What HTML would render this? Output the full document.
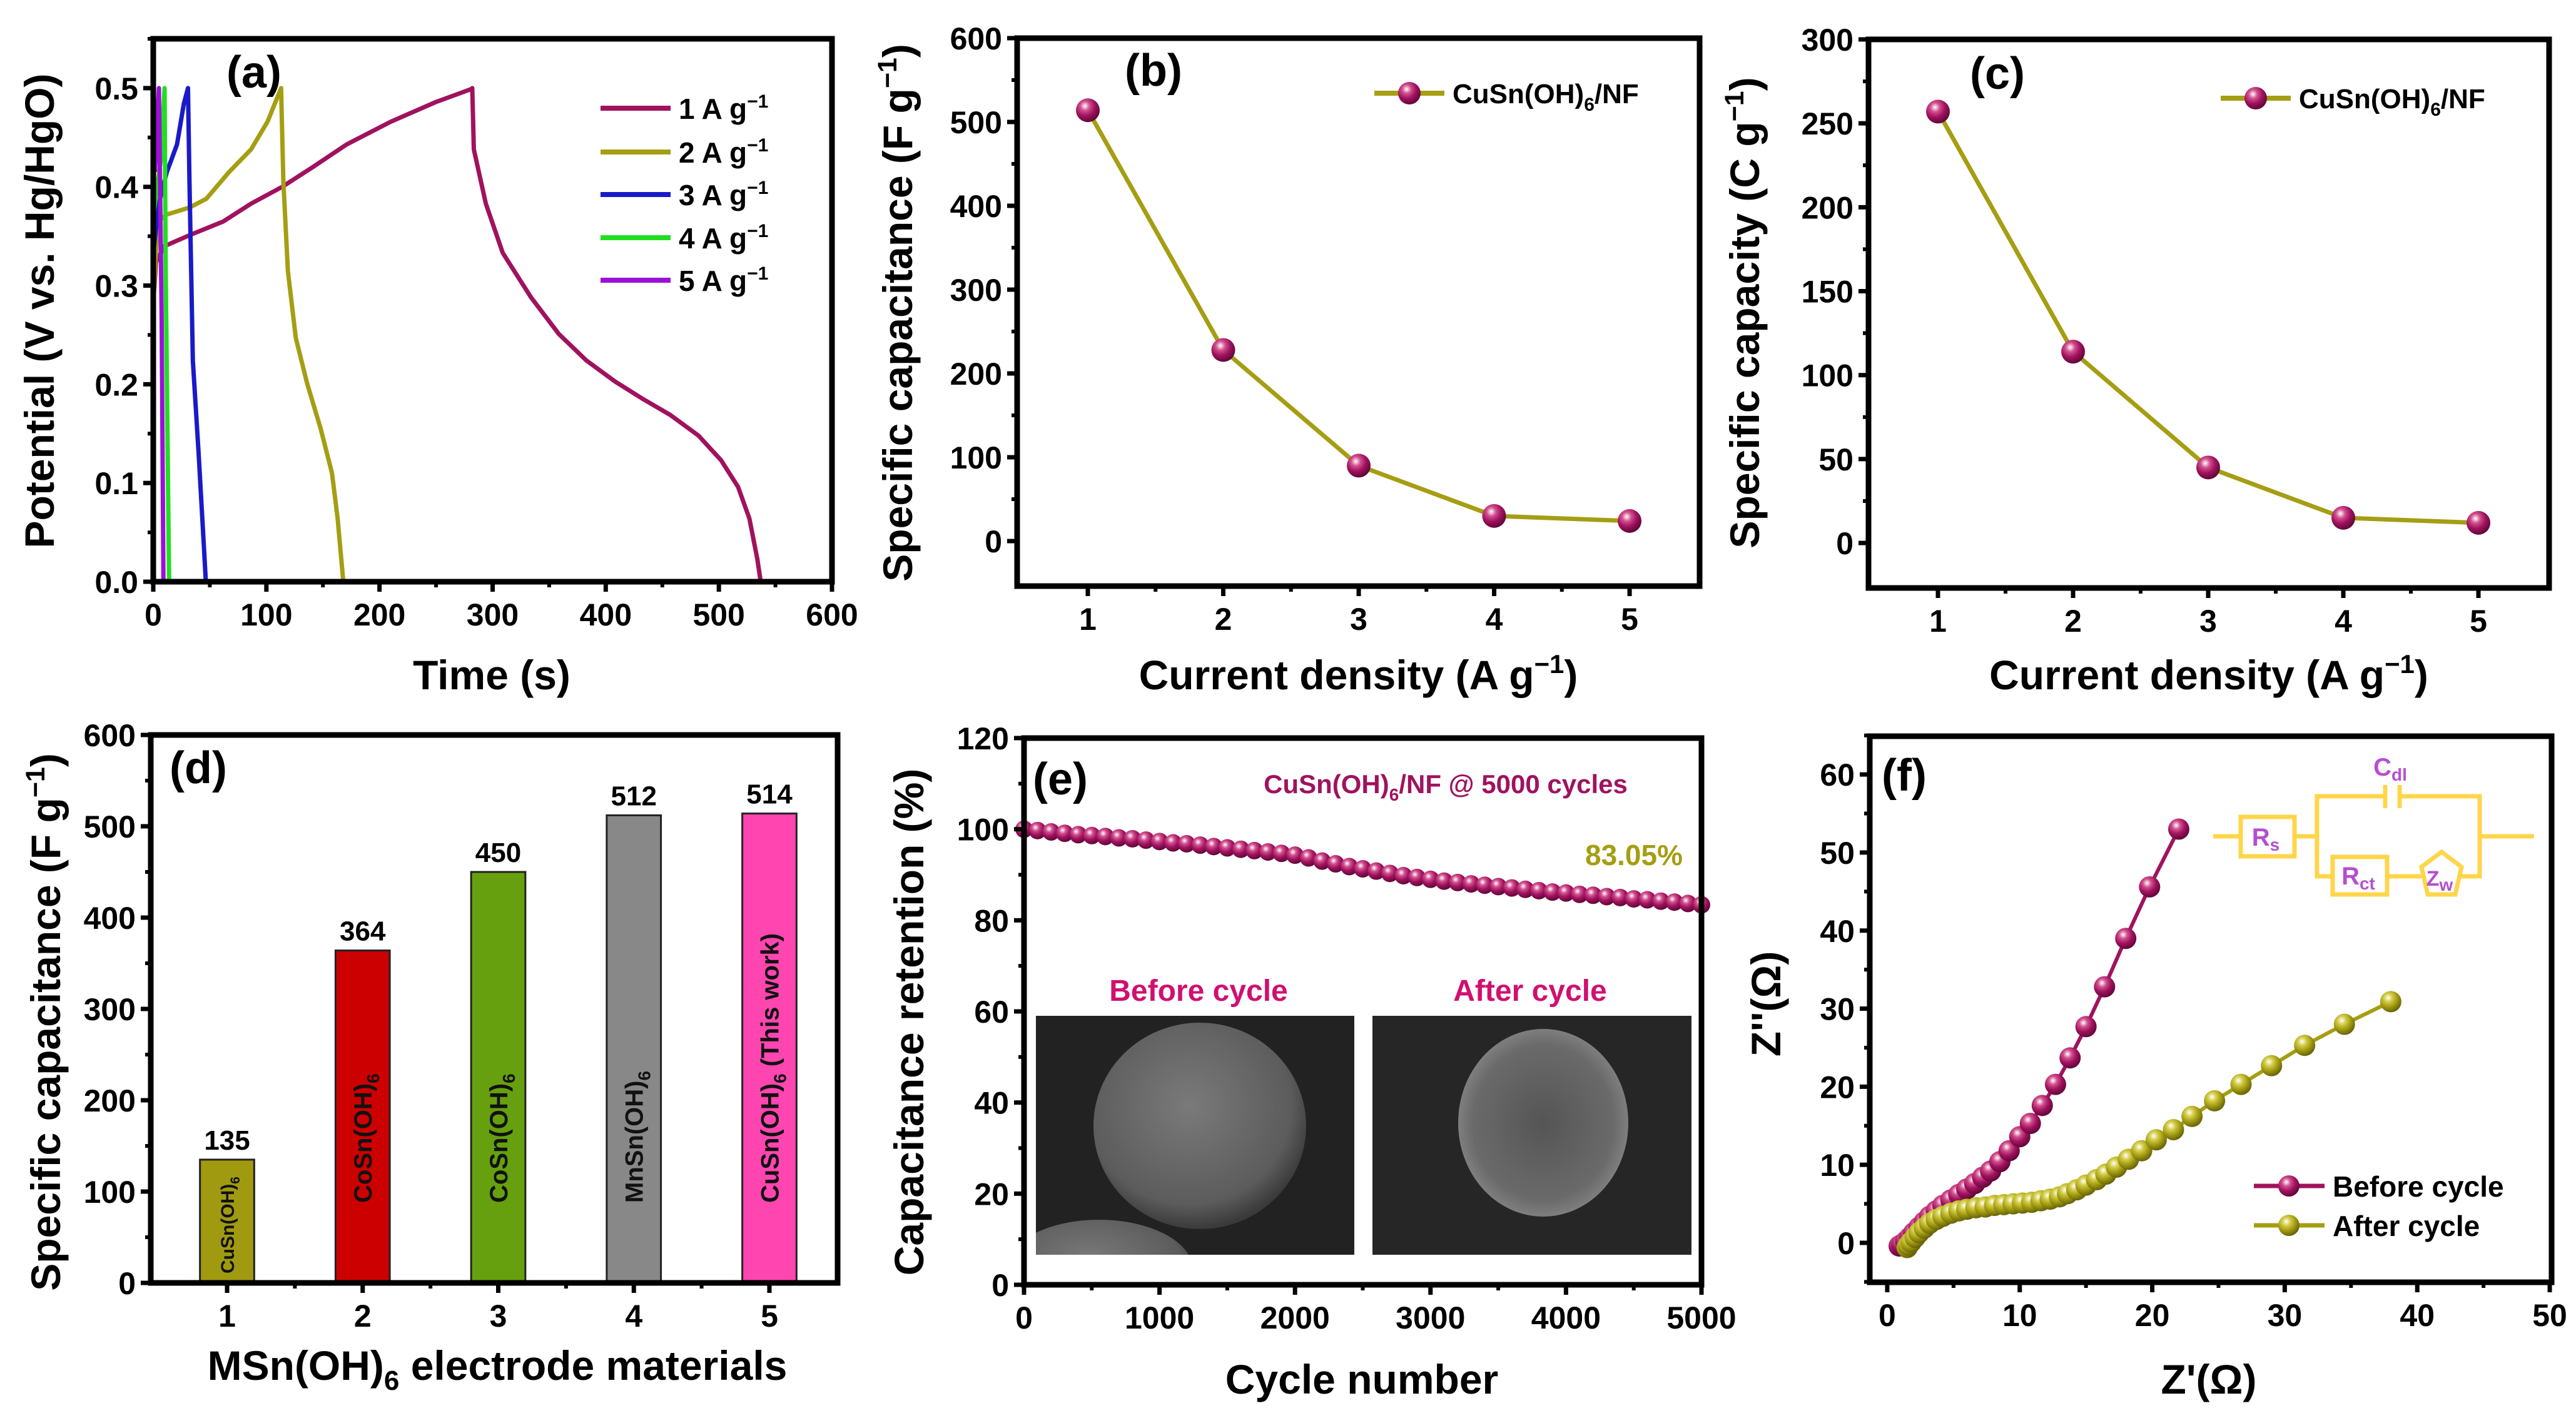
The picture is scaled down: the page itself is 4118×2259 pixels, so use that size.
<!DOCTYPE html>
<html><head><meta charset="utf-8">
<style>
html,body{margin:0;padding:0;background:#fff;}
svg{display:block;font-family:"Liberation Sans",Arial,sans-serif;font-weight:bold;}
</style></head>
<body>
<svg id="fig" width="4118" height="2259" viewBox="0 0 4118 2259" xmlns="http://www.w3.org/2000/svg">
<defs>
<radialGradient id="gM" cx="0.38" cy="0.32" r="0.7"><stop offset="0" stop-color="#ffffff"/><stop offset="0.28" stop-color="#d2508e"/><stop offset="0.6" stop-color="#a0125e"/><stop offset="1" stop-color="#5e0636"/></radialGradient>
<radialGradient id="gO" cx="0.38" cy="0.32" r="0.7"><stop offset="0" stop-color="#ffffff"/><stop offset="0.28" stop-color="#d4cd4a"/><stop offset="0.6" stop-color="#a59e13"/><stop offset="1" stop-color="#646006"/></radialGradient>
<radialGradient id="gS" cx="0.45" cy="0.4" r="0.6"><stop offset="0" stop-color="#7a7a7a"/><stop offset="0.8" stop-color="#5c5c5c"/><stop offset="1" stop-color="#3a3a3a"/></radialGradient>
<radialGradient id="gS2" cx="0.5" cy="0.5" r="0.55"><stop offset="0" stop-color="#555"/><stop offset="0.75" stop-color="#6a6a6a"/><stop offset="1" stop-color="#8a8a8a"/></radialGradient>
<clipPath id="clipBefore"><rect x="1656" y="1624" width="509" height="382"/></clipPath>
<clipPath id="clipAfter"><rect x="2194" y="1624" width="510" height="382"/></clipPath>
</defs>
</svg>
<script>
// ---------- DATA ----------
// (a) GCD curves
const aT1=[0,2.5,10,32,62,86.5,114,141,171,210,250,281,282,283.4,294,309,334,358.5,383,408,433,457,482,502,517,527,534,537];
const aV1=[0.283,0.324,0.34,0.351,0.365,0.383,0.40,0.42,0.443,0.466,0.486,0.499,0.5,0.438,0.383,0.333,0.288,0.251,0.224,0.203,0.185,0.169,0.148,0.123,0.096,0.064,0.023,0];
const aT2=[0,4,12,32,47,67,86.5,101,113,115,119,126,136,148,158,163,168];
const aV2=[0.287,0.365,0.372,0.379,0.388,0.415,0.438,0.466,0.5,0.406,0.315,0.247,0.201,0.155,0.11,0.064,0];
const aT3=[0,5,12,21,27,30.7,32,35,40,44.5,46.5];
const aV3=[0.333,0.383,0.415,0.443,0.484,0.5,0.406,0.224,0.132,0.041,0];
const aT4=[0,7,10,11,14];
const aV4=[0.37,0.43,0.5,0.315,0];
const aT5=[1.5,5,7.4,9];
const aV5=[0.415,0.5,0.27,0];
const aLegend=["1 A g","2 A g","3 A g","4 A g","5 A g"];
const aColors=["#a0125e","#a59e13","#1a1ac8","#22dd22","#9a10d8"];
// (b),(c)
const cdX=[1,2,3,4,5];
const bCap=[514,228,90,30,24];
const cCap=[257,114,45,15,12];
// (d)
const dCats=[1,2,3,4,5];
const dVals=[135,364,450,512,514];
const dNames=["CuSn(OH)","CoSn(OH)","CoSn(OH)","MnSn(OH)","CuSn(OH)"];
const dSuffix=["","","",""," (This work)"];
const dColors=["#a09a10","#cc0000","#66a00f","#888888","#ff45b0"];
// (e)
const eCycles=[0,100,200,300,400,500,600,700,800,900,1000,1100,1200,1300,1400,1500,1600,1700,1800,1900,2000,2100,2200,2300,2400,2500,2600,2700,2800,2900,3000,3100,3200,3300,3400,3500,3600,3700,3800,3900,4000,4100,4200,4300,4400,4500,4600,4700,4800,4900,5000];
const eRet=[100.0,99.7,99.4,99.1,98.8,98.6,98.4,98.1,97.9,97.6,97.3,97.0,96.8,96.5,96.2,95.9,95.6,95.3,95.0,94.7,94.3,93.7,93.0,92.4,91.8,91.3,90.8,90.3,89.8,89.4,89.0,88.6,88.3,88.0,87.7,87.4,87.1,86.8,86.5,86.2,86.0,85.7,85.5,85.2,85.0,84.7,84.5,84.2,84.0,83.7,83.4];
// (f)
const fBx=[0.9,1.1,1.4,1.7,2.0,2.4,2.8,3.2,3.7,4.2,4.8,5.4,6.0,6.6,7.2,7.8,8.5,9.2,10.0,10.8,11.7,12.7,13.8,15.0,16.4,18.0,19.8,22.0];
const fBy=[-0.4,-0.2,0.2,0.7,1.3,2.0,2.7,3.4,4.1,4.8,5.5,6.2,6.9,7.6,8.4,9.2,10.4,11.8,13.6,15.3,17.6,20.3,23.7,27.7,32.8,39.0,45.6,53.0];
const fAx=[1.5,1.6,1.8,2.1,2.4,2.8,3.2,3.7,4.2,4.8,5.4,6.0,6.7,7.4,8.1,8.8,9.5,10.2,10.9,11.6,12.3,13.0,13.6,14.3,15.0,15.8,16.5,17.3,18.2,19.2,20.3,21.6,23.0,24.7,26.7,29.0,31.5,34.5,38.0];
const fAy=[-0.6,-0.3,0.1,0.7,1.3,1.9,2.5,3.0,3.4,3.8,4.1,4.3,4.5,4.6,4.8,4.9,5.0,5.1,5.2,5.4,5.6,5.9,6.3,6.8,7.4,8.1,8.8,9.7,10.7,11.8,13.2,14.5,16.2,18.2,20.3,22.7,25.3,28.0,30.9];

// ---------- HELPERS ----------
const NS='http://www.w3.org/2000/svg';
const svg=document.getElementById('fig');
function mk(tag,attrs,parent){const e=document.createElementNS(NS,tag);for(const k in attrs)e.setAttribute(k,attrs[k]);(parent||svg).appendChild(e);return e;}
function panel(L,R,T,B,x0,x1,y0,y1){return {L,R,T,B,sx:v=>L+(v-x0)/(x1-x0)*(R-L),sy:v=>B-(v-y0)/(y1-y0)*(B-T)};}
function frame(p,g,xt,yt,xm,ym,xf,yf){
  for(const v of xt){const x=p.sx(v);
    const t=mk('line',{x1:x,x2:x,y1:p.B,y2:p.B+16,stroke:'#000','stroke-width':7},g);
    
    
    const l=mk('text',{x:x,y:p.B+70,'font-size':50,'text-anchor':'middle'},g);l.textContent=xf(v);
    
    }
  for(const v of xm){const x=p.sx(v);mk('line',{x1:x,x2:x,y1:p.B,y2:p.B+9,stroke:'#000','stroke-width':6},g);}
  for(const v of yt){const y=p.sy(v);
    const t=mk('line',{x1:p.L-16,x2:p.L,y1:y,y2:y,stroke:'#000','stroke-width':7},g);
    
    
    const l=mk('text',{x:p.L-24,y:y+18,'font-size':50,'text-anchor':'end'},g);l.textContent=yf(v);
    
    }
  for(const v of ym){const y=p.sy(v);mk('line',{x1:p.L-9,x2:p.L,y1:y,y2:y,stroke:'#000','stroke-width':6},g);}
  const r=mk('rect',{x:p.L,y:p.T,width:p.R-p.L,height:p.B-p.T,fill:'none',stroke:'#000','stroke-width':9},g);
  
  
}
function txt(g,x,y,s,size,attrs){const t=mk('text',Object.assign({x:x,y:y,'font-size':size},attrs||{}),g);t.textContent=s;return t;}
function ytitle(g,x,y,size,parts){const t=mk('text',{x:0,y:0,'font-size':size,'text-anchor':'middle',transform:`translate(${x},${y}) rotate(-90)`},g);
  for(const [s,kind] of parts){const ts=mk('tspan',{},t);ts.textContent=s;if(kind==='sup'){ts.setAttribute('dy',-size*0.38);ts.setAttribute('font-size',size*0.65);}else if(kind==='back'){ts.setAttribute('dy',size*0.38);}}
  return t;}
function range(a,b,s){const r=[];for(let v=a;v<=b+1e-9;v+=s)r.push(+v.toFixed(6));return r;}

// ---------- PANEL A ----------
{const g=mk('g',{});
 const p=panel(245,1330,62,930,0,600,0,0.55);
 const series=[[aT1,aV1],[aT2,aV2],[aT3,aV3],[aT4,aV4],[aT5,aV5]];
 series.forEach((s,i)=>{const pts=s[0].map((t,j)=>p.sx(t)+','+p.sy(s[1][j])).join(' ');
   const pl=mk('polyline',{points:pts,fill:'none',stroke:aColors[i],'stroke-width':7,'stroke-linejoin':'round'},g);
   
   });
 frame(p,g,range(0,600,100),range(0,0.5,0.1),range(50,550,100),range(0.05,0.55,0.1),v=>String(v),v=>v.toFixed(1));
 const lx=[173,243,311,380,448];
 aLegend.forEach((s,i)=>{const y=lx[i];
   const ln=mk('line',{x1:960,x2:1072,y1:y,y2:y,stroke:aColors[i],'stroke-width':8},g);
   
   
   const t=mk('text',{x:1085,y:y+17,'font-size':46},g);t.textContent=s;
   const sp=mk('tspan',{dy:-18,'font-size':30},t);sp.textContent='−1';
   
   });
 const pl=txt(g,362,140,'(a)',72);
 const yt=ytitle(g,86,497,66,[['Potential (V vs. Hg/HgO)']]);
 const xt=txt(g,786,1102,'Time (s)',66,{'text-anchor':'middle'});
}

// ---------- PANELS B, C ----------
function capPanel(name,p,vals,yt,ym,lab,labX,labY,legX,legY,titleX,titleParts){
 const g=mk('g',{});
 const pts=cdX.map((x,i)=>p.sx(x)+','+p.sy(vals[i])).join(' ');
 const l=mk('polyline',{points:pts,fill:'none',stroke:'#a59e13','stroke-width':7},g);
 
 cdX.forEach((x,i)=>{const c=mk('circle',{cx:p.sx(x),cy:p.sy(vals[i]),r:19,fill:'url(#gM)'},g);
   });
 frame(p,g,cdX,yt,range(1.5,4.5,1),ym,v=>String(v),v=>String(v));
 const ll=mk('line',{x1:legX,x2:legX+112,y1:legY,y2:legY,stroke:'#a59e13','stroke-width':8},g);
 
 const lc=mk('circle',{cx:legX+56,cy:legY,r:18,fill:'url(#gM)'},g);
 
 const t=mk('text',{x:legX+125,y:legY+16,'font-size':44},g);
 const a=mk('tspan',{},t);a.textContent='CuSn(OH)';const b=mk('tspan',{dy:12,'font-size':30},t);b.textContent='6';const c2=mk('tspan',{dy:-12},t);c2.textContent='/NF';
 
 const pl=txt(g,labX,labY,lab,72,{'text-anchor':'middle'});
 const ytl=ytitle(g,titleX,500,66,titleParts);
 const xt=mk('text',{x:(p.L+p.R)/2,y:1102,'font-size':66,'text-anchor':'middle'},g);
 const x1=mk('tspan',{},xt);x1.textContent='Current density (A g';const x2=mk('tspan',{dy:-26,'font-size':42},xt);x2.textContent='−1';const x3=mk('tspan',{dy:26},xt);x3.textContent=')';
 
}
capPanel('panel-b-capacitance',panel(1626,2717,61,937,0.478,5.517,-53.7,600),bCap,range(0,600,100),range(50,550,100),'(b)',1844,137,2197,149,1458,[['Specific capacitance (F g'],['−1','sup'],[')','back']]);
capPanel('panel-c-capacity',panel(2987,4075,63,940,0.486,5.523,-26.8,300),cCap,range(0,300,50),range(25,275,50),'(c)',3193,142,3550,157,2812,[['Specific capacity (C g'],['−1','sup'],[')','back']]);

// ---------- PANEL D ----------
{const g=mk('g',{});
 const p=panel(241,1339,1175,2051,0.437,5.503,0,600);
 dCats.forEach((c,i)=>{const x=p.sx(c),w=(p.sx(1.2)-p.sx(0.8)),y=p.sy(dVals[i]);
   const r=mk('rect',{x:x-w/2,y:y,width:w,height:p.B-y,fill:dColors[i],stroke:'#222','stroke-width':3},g);
   
   const v=txt(g,x,y-16,String(dVals[i]),44,{'text-anchor':'middle'});
   
   const fs=i===0?30:40;const sy=i===0?2036:1923;
   const t=mk('text',{x:0,y:0,'font-size':fs,fill:'#111',transform:`translate(${x+fs*0.36},${sy}) rotate(-90)`},g);
   const a=mk('tspan',{},t);a.textContent=dNames[i];const b=mk('tspan',{dy:fs*0.3,'font-size':fs*0.7},t);b.textContent='6';
   if(dSuffix[i]){const s=mk('tspan',{dy:-fs*0.3},t);s.textContent=dSuffix[i];}
   });
 frame(p,g,dCats,range(0,600,100),range(1.5,4.5,1),range(50,550,100),v=>String(v),v=>String(v));
 const pl=txt(g,317,1252,'(d)',72,{'text-anchor':'middle'});
 const yt=ytitle(g,96,1634,66,[['Specific capacitance (F g'],['−1','sup'],[')','back']]);
 const xt=mk('text',{x:795,y:2206,'font-size':66,'text-anchor':'middle'},g);
 const a=mk('tspan',{},xt);a.textContent='MSn(OH)';const b=mk('tspan',{dy:16,'font-size':44},xt);b.textContent='6';const c=mk('tspan',{dy:-16},xt);c.textContent=' electrode materials';
 
}

// ---------- PANEL E ----------
{const g=mk('g',{});
 const p=panel(1637,2720,1180,2054,0,5000,0,120);
 // SEM insets
 const s1=mk('rect',{x:1656,y:1624,width:509,height:382,fill:'#222'},g);
 const cb=mk('g',{'clip-path':'url(#clipBefore)'},g);
 mk('ellipse',{cx:1757,cy:2030,rx:150,ry:80,fill:'url(#gS)'},cb);
 mk('ellipse',{cx:1918,cy:1800,rx:170,ry:165,fill:'url(#gS)'},cb);
 const s2=mk('rect',{x:2194,y:1624,width:510,height:382,fill:'#262626'},g);
 const ca=mk('g',{'clip-path':'url(#clipAfter)'},g);
 mk('ellipse',{cx:2467,cy:1795,rx:136,ry:150,fill:'url(#gS2)'},ca);
 const b1=txt(g,1916,1600,'Before cycle',48,{'text-anchor':'middle',fill:'#d01070'});
 const b2=txt(g,2446,1600,'After cycle',48,{'text-anchor':'middle',fill:'#d01070'});
 eCycles.forEach((c,i)=>{const d=mk('circle',{cx:p.sx(c),cy:p.sy(eRet[i]),r:14,fill:'url(#gM)'},g);
   });
 frame(p,g,range(0,5000,1000),range(0,120,20),range(500,4500,1000),range(10,110,20),v=>String(v),v=>String(v));
 const t=mk('text',{x:2311,y:1268,'font-size':42,'text-anchor':'middle',fill:'#a0125e'},g);
 const a=mk('tspan',{},t);a.textContent='CuSn(OH)';const b=mk('tspan',{dy:12,'font-size':28},t);b.textContent='6';const c=mk('tspan',{dy:-12},t);c.textContent='/NF @ 5000 cycles';
 
 const r=txt(g,2690,1383,'83.05%',46,{'text-anchor':'end',fill:'#a59e13'});
 const pl=txt(g,1695,1270,'(e)',72,{'text-anchor':'middle'});
 const yt=ytitle(g,1476,1634,66,[['Capacitance retention (%)']]);
 const xt=txt(g,2177,2228,'Cycle number',66,{'text-anchor':'middle'});
}

// ---------- PANEL F ----------
{const g=mk('g',{});
 const p=panel(2989,4079,1177,2050,-1.32,50.14,-5.05,64.9);
 const lb=mk('polyline',{points:fBx.map((x,i)=>p.sx(x)+','+p.sy(fBy[i])).join(' '),fill:'none',stroke:'#a0125e','stroke-width':6},g);
 
 const la=mk('polyline',{points:fAx.map((x,i)=>p.sx(x)+','+p.sy(fAy[i])).join(' '),fill:'none',stroke:'#a59e13','stroke-width':6},g);
 
 fBx.forEach((x,i)=>{const c=mk('circle',{cx:p.sx(x),cy:p.sy(fBy[i]),r:17,fill:'url(#gM)'},g);
   });
 fAx.forEach((x,i)=>{const c=mk('circle',{cx:p.sx(x),cy:p.sy(fAy[i]),r:17,fill:'url(#gO)'},g);
   });
 frame(p,g,range(0,50,10),range(0,60,10),range(5,45,10),range(-5,65,10),v=>String(v),v=>String(v));
 // legend
 const l1=mk('line',{x1:3603,x2:3716,y1:1896,y2:1896,stroke:'#a0125e','stroke-width':7},g);
 mk('circle',{cx:3659,cy:1896,r:17,fill:'url(#gM)'},g);
 const t1=txt(g,3729,1913,'Before cycle',46);
 const l2=mk('line',{x1:3603,x2:3716,y1:1959,y2:1959,stroke:'#a59e13','stroke-width':7},g);
 mk('circle',{cx:3659,cy:1959,r:17,fill:'url(#gO)'},g);
 const t2=txt(g,3729,1976,'After cycle',46);
 // circuit
 const cg=mk('g',{stroke:'#ffd54a','stroke-width':7,fill:'none'},g);
 mk('line',{x1:3538,x2:3582,y1:1337,y2:1337},cg);
 mk('rect',{x:3582,y:1306,width:86,height:63,fill:'#fff'},cg);
 mk('line',{x1:3668,x2:3704,y1:1337,y2:1337},cg);
 mk('polyline',{points:'3813,1273 3704,1273 3704,1401 3729,1401'},cg);
 mk('polyline',{points:'3836,1273 3964,1273 3964,1401 3935,1401'},cg);
 mk('line',{x1:3813,x2:3813,y1:1255,y2:1292},cg);
 mk('line',{x1:3836,x2:3836,y1:1255,y2:1292},cg);
 mk('rect',{x:3729,y:1370,width:87,height:60,fill:'#fff'},cg);
 mk('line',{x1:3816,x2:3871,y1:1401,y2:1401},cg);
 mk('polygon',{points:'3903,1362 3935,1386 3925,1430 3881,1430 3871,1386',fill:'#fff'},cg);
 mk('line',{x1:3964,x2:4051,y1:1337,y2:1337},cg);
 const tc=(x,y,m,s)=>{const t=mk('text',{x:x,y:y,'font-size':40,fill:'#b44fd0','text-anchor':'middle'},g);const a=mk('tspan',{},t);a.textContent=m;const b=mk('tspan',{dy:8,'font-size':28},t);b.textContent=s;return t;};
 const c1=tc(3622,1352,'R','s');
 const c2=tc(3821,1240,'C','dl');
 const c3=tc(3770,1414,'R','ct');
 const c4=tc(3900,1416,'Z','w');c4.setAttribute('font-size',34);
 const pl=txt(g,3044,1264,'(f)',72,{'text-anchor':'middle'});
 const yt=ytitle(g,2846,1605,66,[["Z''(Ω)"]]);
 const xt=txt(g,3531,2228,"Z'(Ω)",66,{'text-anchor':'middle'});
}
</script>
</body></html>
